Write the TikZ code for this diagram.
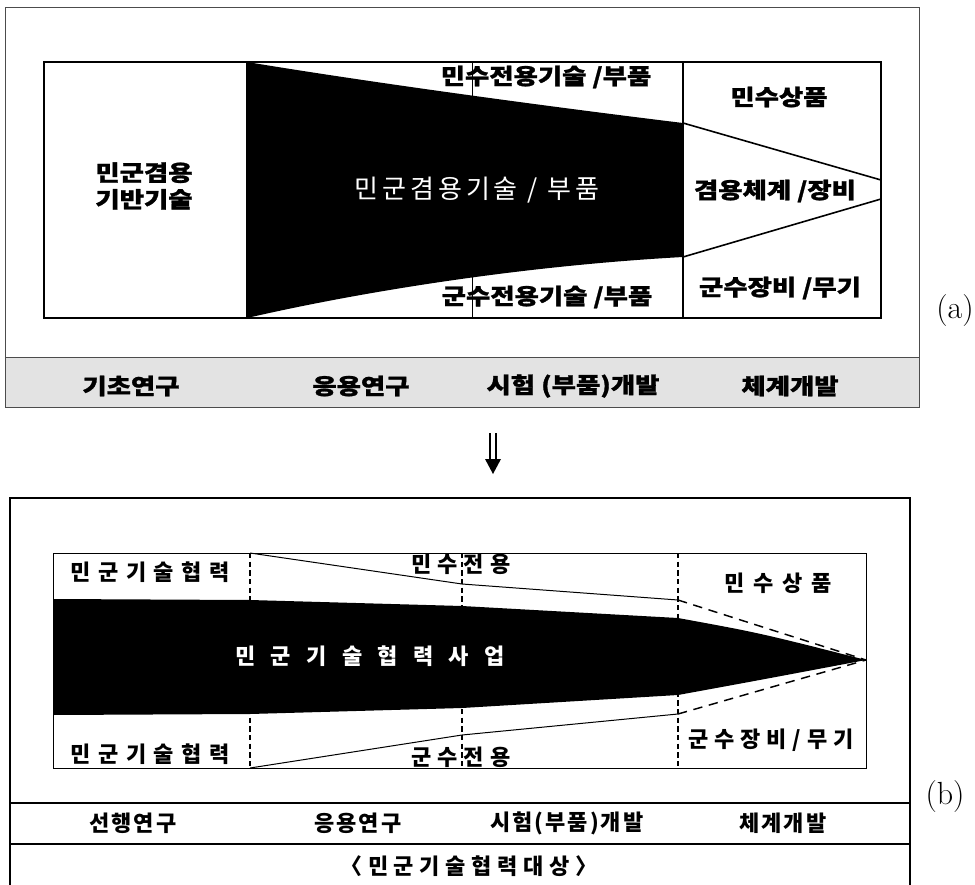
\documentclass[tikz,border=0pt]{standalone}
\usepackage{fontspec}
\newfontfamily\kra{Noto Sans CJK KR}[FakeStretch=1.2,FakeBold=1.2]
\newfontfamily\krb{Noto Sans CJK KR}
\tikzset{
  heavy/.style={font={\kra\bfseries\fontsize{16.5}{20}\selectfont}, inner sep=0pt, align=center},
  lightw/.style={font={\krb\fontsize{19.5}{22}\selectfont\addfontfeatures{LetterSpace=15}}, text=white, inner sep=0pt},
  bls/.style={font={\krb\bfseries\fontsize{16.5}{20}\selectfont\addfontfeatures{LetterSpace=#1}}, inner sep=0pt},
  thickln/.style={line width=1.5pt},
  thinln/.style={line width=0.75pt},
  dshv/.style={line width=1pt, dash pattern=on 4pt off 2.5pt},
  dshd/.style={line width=1.1pt, dash pattern=on 7pt off 5pt},
  lbl/.style={font=\fontsize{24}{28}\selectfont, inner sep=0pt}
}
\begin{document}
\begin{tikzpicture}[x=0.75pt,y=-0.75pt]
\useasboundingbox (0,0) rectangle (975,885);
% ---------------- panel (a) ----------------
\fill[gray!22] (5,357) rectangle (919,407);
\draw[gray!60!black, line width=0.6pt] (5,7) rectangle (919,407);
\draw[gray!60!black, line width=0.6pt] (5,357) -- (919,357);
% black wedge
\fill[black] (247,62) .. controls (380,84) and (560,108) .. (683,123)
  -- (683,257) .. controls (520,266) and (360,292) .. (247,318) -- cycle;
\draw[thinln] (472,62) -- (472,318);
\draw[thickln] (44,62) rectangle (881,318);
\draw[thickln] (247,62) -- (247,318);
\draw[thickln] (683,62) -- (683,318);
\coordinate (aup) at (683,123);
\coordinate (alo) at (683,257);
\coordinate (aupR) at (881,180);
\coordinate (aloR) at (881,199);
\draw[line width=1.2pt] (aup) -- (aupR);
\draw[line width=1.2pt] (alo) -- (aloR);
\node[heavy] (a1) at (144,186) {민군겸용\\기반기술};
\node[lightw] (a2) at (477,190) {민군겸용기술 / 부품};
\node[heavy] (a3) at (546,77) {민수전용기술 /부품};
\node[heavy] (a4) at (547,297) {군수전용기술 /부품};
\node[heavy] (a5) at (779,97) {민수상품};
\node[heavy] (a6) at (775,191) {겸용체계 /장비};
\node[heavy] (a7) at (780,288) {군수장비 /무기};
\node[heavy] (a8) at (131,386) {기초연구};
\node[heavy] (a9) at (361,386) {응용연구};
\node[heavy] (a10) at (573,386) {시험 (부품)개발};
\node[heavy] (a11) at (790,386) {체계개발};
\node[lbl] (la) at (955,311) {(a)};
% ---------------- arrow ----------------
\draw[line width=1.2pt] (490,433) -- (490,462);
\draw[line width=1.2pt] (496,433) -- (496,462);
\fill (485,459) -- (501,459) -- (493,474) -- cycle;
% ---------------- panel (b) ----------------
\draw[line width=0.9pt] (10,885) -- (10,498) -- (910,498) -- (910,885);
\draw[line width=0.9pt] (10,803) -- (910,803);
\draw[line width=0.9pt] (10,844) -- (910,844);
\coordinate (tip) at (866,660);
\fill[black] (53,599) -- (250,600) -- (462,606) -- (678,618)
  .. controls (760,633) .. (tip)
  .. controls (760,680) .. (678,695) -- (462,708) -- (250,714) -- (53,715) -- cycle;
\draw[thinln] (53,553) rectangle (866,768);
\draw[dshv] (250,553) -- (250,768);
\draw[dshv] (462,553) -- (462,768);
\draw[dshv] (678,553) -- (678,768);
\coordinate (bu) at (678,600);
\coordinate (bl) at (678,714);
\draw[thinln] (250,553) -- (462,584) -- (bu);
\draw[thinln] (250,768) -- (462,735) -- (bl);
\draw[dshd] (bu) -- (tip);
\draw[dshd] (bl) -- (tip);
\node[bls=34] (b1) at (150,572) {민군기술협력};
\node[bls=34] (b2) at (150,754) {민군기술협력};
\node[bls=27] (b3) at (461,564) {민수전용};
\node[bls=27] (b4) at (461,757) {군수전용};
\node[bls=70, text=white] (b5) at (370,656) {민군기술협력사업};
\node[bls=40] (b6) at (778,583) {민수상품};
\node[bls=27] (b7) at (771,740) {군수장비/무기};
\node[bls=9] (b8) at (133,823) {선행연구};
\node[bls=9] (b9) at (358,823) {응용연구};
\node[bls=9] (b10) at (567,823) {시험(부품)개발};
\node[bls=9] (b11) at (783,823) {체계개발};
\node[bls=26] (b12) at (469,866) {〈민군기술협력대상〉};
\node[lbl] (lb) at (945,797) {(b)};
\end{tikzpicture}
\end{document}
